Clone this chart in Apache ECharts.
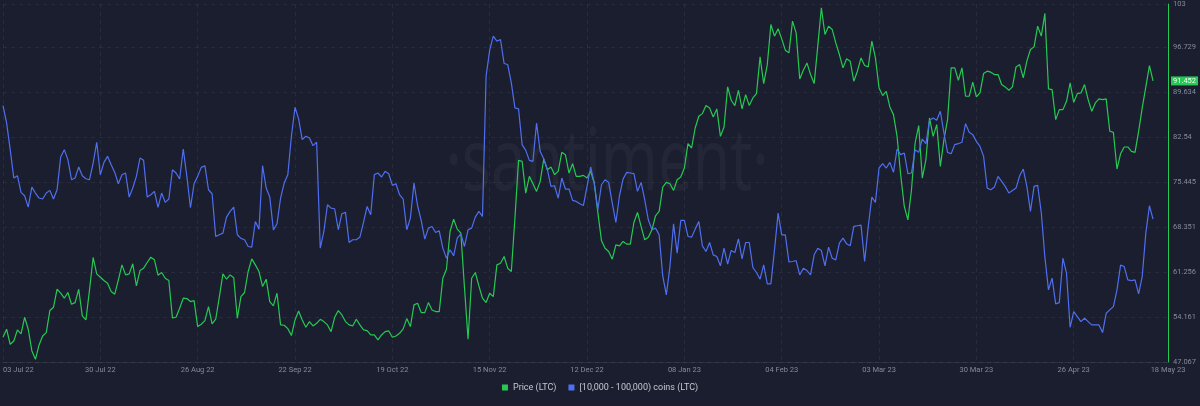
<!DOCTYPE html>
<html>
<head>
<meta charset="utf-8">
<script src="https://cdn.jsdelivr.net/npm/echarts@6/dist/echarts.min.js"></script>
<style>
  html, body { margin: 0; padding: 0; background: #1b1e2e; }
  #chart { width: 1200px; height: 406px; }
</style>
</head>
<body>
<div id="chart"></div>
<script>
// x is days since 03 Jul 22, one point a day up to 18 May 23
const xTickLabels = ['03 Jul 22', '30 Jul 22', '26 Aug 22', '22 Sep 22', '19 Oct 22', '15 Nov 22',
  '12 Dec 22', '08 Jan 23', '04 Feb 23', '03 Mar 23', '30 Mar 23', '26 Apr 23', '18 May 23'];
const yTickLabels = ['47.067', '54.161', '61.256', '68.351', '75.445', '82.54', '89.634', '96.729', '103'];

const priceLtc = [
  50.97, 52.24, 49.86, 50.39, 52.13, 51.50, 54.13, 52.24, 48.86, 47.49,
  49.76, 51.18, 51.71, 55.19, 55.71, 58.56, 57.93, 57.14, 58.04, 56.19,
  56.45, 58.56, 54.34, 53.71, 58.46, 63.57, 60.99, 60.46, 59.93, 59.51,
  58.19, 57.77, 60.04, 62.41, 60.83, 60.99, 62.57, 59.09, 61.51, 61.88,
  62.78, 63.62, 63.20, 60.78, 61.20, 60.30, 59.93, 54.03, 54.13, 55.56,
  57.14, 57.09, 56.61, 56.77, 52.66, 53.03, 53.61, 55.82, 53.08, 53.82,
  57.30, 60.99, 60.14, 60.83, 60.36, 53.98, 57.40, 58.04, 61.36, 63.36,
  62.41, 61.36, 58.98, 60.14, 56.61, 55.93, 57.93, 52.92, 52.87, 52.34,
  51.24, 53.71, 55.13, 53.71,
  52.55, 53.45, 52.76, 53.18, 53.81, 53.45, 52.92, 51.86, 54.13, 55.18,
  54.50, 53.45, 52.92, 52.76, 53.81, 52.92, 52.13, 52.02, 51.34, 51.34,
  50.55, 51.34, 51.86, 51.97, 50.97, 51.18, 51.60, 52.29, 53.92, 52.66,
  56.09, 56.35, 54.87, 54.87, 56.45, 55.29, 55.03, 55.03, 60.30, 61.72,
  67.68, 69.63, 68.05, 67.42, 58.88, 50.65, 60.30, 61.20, 59.09, 57.14,
  56.45, 57.93, 57.40, 62.41, 62.67, 63.73, 61.88, 61.35, 69.79, 78.91,
  78.75, 73.74, 76.38, 75.22, 74.01, 75.59, 79.12, 77.43, 77.86, 76.65,
  77.17, 80.18, 79.81, 76.91, 78.38, 76.38, 76.38, 76.54, 76.12, 77.17,
  75.33, 70.69, 66.26,
  65.04, 64.52, 63.30, 65.57, 65.41, 66.10, 65.68, 65.68, 69.10, 70.68,
  68.47, 66.36, 66.78, 67.94, 70.16, 70.84, 74.69, 75.43, 75.22, 74.16,
  75.85, 76.27, 77.70, 81.54, 80.86, 84.02, 85.87, 86.29, 87.56, 87.19,
  85.76, 87.03, 82.70, 84.18, 90.51, 88.40, 87.56, 89.98, 87.03, 89.29,
  87.56, 88.77, 89.45, 95.25, 91.03, 94.04, 100.37, 98.52, 99.68, 98.10,
  96.31, 95.88, 100.89, 99.05, 91.77, 93.14, 94.30, 92.46, 91.03, 96.94,
  103.00, 98.78, 100.10, 99.58, 97.47, 95.62, 93.51, 94.94, 94.57, 91.40,
  92.99, 95.09, 93.88, 93.67, 97.73, 95.09, 90.35, 89.14, 89.82, 87.34,
  86.13, 82.70, 76.64,
  71.63, 69.52, 74.27, 81.65, 84.39, 76.11, 79.01, 85.60, 82.70, 84.55,
  77.96, 82.18, 85.34, 93.51, 93.51, 91.56, 93.51, 89.03, 89.03, 91.25,
  88.93, 89.56, 92.62, 92.99, 92.83, 92.46, 92.46, 90.88, 90.51, 89.98,
  90.51, 93.67, 94.04, 91.93, 94.57, 96.41, 96.83, 100.10, 98.52, 102.11,
  90.19, 90.09, 85.34, 86.92, 86.92, 88.24, 91.14, 88.08, 89.45, 89.56,
  90.88, 88.50, 86.66, 87.98, 88.61, 88.50, 88.61, 83.50, 83.34, 77.54,
  79.96, 81.02, 81.02, 80.33, 80.17, 83.50, 87.19, 90.51, 93.88, 91.452
];

// read against the price scale (the coins axis is hidden)
const coins10kTo100k = [
  87.56, 84.82, 80.60, 76.12, 76.49, 73.85, 73.32, 71.53, 74.69, 73.75,
  72.96, 72.80, 73.75, 74.17, 72.80, 74.27, 79.44, 80.60, 79.02, 75.85,
  76.12, 77.86, 76.49, 76.01, 75.85, 78.49, 81.76, 76.64, 78.60, 79.54,
  78.23, 77.01, 75.22, 76.64, 76.91, 73.11, 74.54, 76.38, 79.28, 78.91,
  73.11, 73.48, 74.01, 71.48, 73.75, 72.27, 72.80, 77.43, 76.91, 75.96,
  80.70, 76.38, 71.42, 75.22, 76.38, 77.80, 78.07, 74.27, 73.64, 66.89,
  67.16, 67.42, 69.95, 70.85, 71.53, 67.16, 66.58, 66.37, 65.31, 65.21,
  69.26, 68.05, 78.07, 74.54, 73.11, 67.94, 68.89, 72.96, 75.33, 76.64,
  82.71, 87.30, 85.45, 82.18,
  82.71, 82.44, 81.23, 81.76, 65.05, 67.68, 71.90, 71.37, 71.27, 67.95,
  70.48, 70.69, 65.94, 66.37, 66.37, 66.79, 69.11, 71.64, 70.32, 76.65,
  76.91, 76.28, 77.17, 76.80, 74.96, 75.22, 73.48, 72.80, 67.95, 69.79,
  75.33, 71.74, 69.42, 66.47, 68.21, 68.47, 67.52, 67.79, 65.05, 63.47,
  64.78, 63.84, 66.63, 67.31, 65.31, 67.95, 68.21, 69.95, 70.85, 70.05,
  92.20, 96.31, 98.52, 97.73, 97.99, 94.20, 94.04, 91.14, 87.19, 87.03,
  81.39, 80.49, 78.91, 78.75, 84.81, 80.33, 79.12, 77.43, 74.80, 74.90,
  72.95, 76.12, 74.38, 74.38, 72.59, 72.43, 72.06, 71.79, 74.80, 77.86,
  75.33, 71.11, 75.06,
  75.85, 75.43, 72.16, 69.10, 73.32, 75.96, 77.01, 76.91, 76.80, 74.01,
  75.43, 72.69, 69.52, 67.94, 68.21, 67.15, 60.67, 57.66, 62.14, 68.89,
  64.25, 69.42, 69.42, 66.89, 66.78, 68.05, 69.26, 65.41, 64.52, 65.94,
  63.99, 63.73, 62.25, 65.04, 62.51, 64.68, 64.36, 66.52, 63.36, 65.94,
  65.94, 61.99, 61.20, 60.14, 62.41, 59.40, 59.40, 64.78, 70.58, 67.15,
  67.15, 62.88, 62.94, 63.09, 60.83, 61.88, 61.51, 60.83, 63.99, 65.04,
  64.67, 62.25, 65.20, 63.46, 63.20, 65.83, 66.63, 65.73, 65.41, 68.47,
  68.58, 68.68, 62.94, 68.47, 73.11, 72.27, 77.70, 78.38, 77.70, 78.59,
  77.01, 80.70, 79.81,
  80.07, 76.80, 76.91, 80.60, 80.17, 82.28, 81.54, 85.24, 85.60, 85.24,
  86.66, 83.23, 80.17, 79.96, 81.39, 81.54, 81.76, 84.71, 83.34, 82.97,
  81.91, 81.12, 79.54, 74.53, 74.27, 74.69, 76.38, 75.59, 74.80, 73.74,
  74.16, 74.53, 76.48, 77.54, 74.80, 70.84, 74.80, 74.96, 70.68, 63.62,
  58.45, 60.30, 56.24, 56.45, 63.46, 61.09, 52.55, 55.03, 54.24, 53.45,
  53.97, 53.45, 52.92, 52.92, 52.92, 51.71, 54.76, 55.29, 55.82, 58.45,
  62.36, 62.14, 60.04, 59.93, 60.04, 57.82, 60.56, 67.42, 71.74, 69.63
];

const yMin = 47.067, yMax = 103.6, yStep = 7.09457;
const dayStep = 27, lastDay = 323.15;

const chart = echarts.init(document.getElementById('chart'));
const fontFamily = 'Roboto, "Noto Sans", sans-serif';
const lastPrice = priceLtc[priceLtc.length - 1];

const option = {
  backgroundColor: '#1b1e2e',
  animation: false,
  textStyle: { fontFamily: fontFamily },
  grid: { left: 0, right: 32, top: 4, bottom: 44 },
  graphic: [{
    type: 'text',
    x: 607,
    y: 122,
    scaleX: 0.71,
    z: 0,
    silent: true,
    style: {
      text: '·santiment·',
      font: '400 86px "Noto Sans"',
      textAlign: 'center',
      textVerticalAlign: 'top',
      fill: 'rgba(255,255,255,0.04)'
    }
  }],
  legend: {
    bottom: 9,
    left: 'center',
    icon: 'rect',
    itemWidth: 6,
    itemHeight: 6,
    itemGap: 12,
    textStyle: { color: '#c4c7d1', fontSize: 9, fontFamily: fontFamily },
    data: ['Price (LTC)', '[10,000 - 100,000) coins (LTC)']
  },
  xAxis: {
    type: 'value',
    min: 0,
    max: lastDay,
    interval: dayStep,
    axisLine: { show: true, onZero: false, lineStyle: { color: 'rgba(255,255,255,0.07)' } },
    axisTick: { show: false },
    axisLabel: {
      color: '#858a99',
      fontSize: 7.5,
      margin: 4,
      alignMinLabel: 'left',
      formatter: function (v) {
        let i = Math.round(v / dayStep);
        return xTickLabels[Math.min(i, xTickLabels.length - 1)];
      }
    },
    splitLine: { show: true, lineStyle: { color: 'rgba(255,255,255,0.06)', type: [4, 4] } }
  },
  yAxis: {
    type: 'value',
    position: 'right',
    min: yMin,
    max: yMax,
    interval: yStep,
    axisLine: { show: true, onZero: false, lineStyle: { color: '#26c953', width: 1 } },
    axisTick: { show: false },
    axisLabel: {
      color: '#858a99',
      fontSize: 7.5,
      margin: 5,
      formatter: function (v) {
        let i = Math.round((v - yMin) / yStep);
        return yTickLabels[Math.min(i, yTickLabels.length - 1)];
      }
    },
    splitLine: { show: true, lineStyle: { color: 'rgba(255,255,255,0.06)', type: [4, 4] } }
  },
  series: [
    {
      name: 'Price (LTC)',
      type: 'line',
      showSymbol: false,
      color: '#26c953',
      lineStyle: { width: 1.2 },
      data: priceLtc.map((v, i) => [i, v]),
      markLine: {
        silent: true,
        symbol: 'none',
        precision: 3,
        lineStyle: { color: 'transparent', width: 0 },
        label: {
          show: true,
          position: 'end',
          distance: 3,
          formatter: function () { return lastPrice.toFixed(3); },
          backgroundColor: '#26c953',
          color: '#eafff0',
          fontSize: 7.5,
          padding: [1, 2, 0, 2]
        },
        data: [{ yAxis: lastPrice }]
      }
    },
    {
      name: '[10,000 - 100,000) coins (LTC)',
      type: 'line',
      showSymbol: false,
      color: '#4f6ff0',
      lineStyle: { width: 1.2 },
      data: coins10kTo100k.map((v, i) => [i, v])
    }
  ]
};

chart.setOption(option);
</script>
</body>
</html>
